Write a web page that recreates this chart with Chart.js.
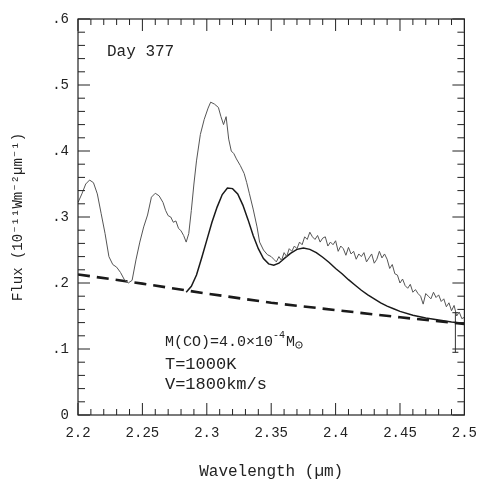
<!DOCTYPE html>
<html>
<head>
<meta charset="utf-8">
<script src="https://cdn.jsdelivr.net/npm/chart.js@4"></script>
<style>
  body { margin: 0; background: #fff; }
  canvas { display: block; }
</style>
</head>
<body>
<canvas id="fluxChart" width="487" height="484"></canvas>
<script>
// observed spectrum (day 377)
const obsWave = [2.200, 2.203, 2.206, 2.209, 2.212, 2.215, 2.218, 2.221, 2.224, 2.227, 2.230, 2.233, 2.236, 2.239, 2.242, 2.245, 2.248, 2.251, 2.254, 2.257, 2.260, 2.263, 2.266, 2.268, 2.270, 2.272, 2.274, 2.276, 2.278, 2.280, 2.282, 2.284, 2.286, 2.288, 2.290, 2.292, 2.295, 2.298, 2.301, 2.303, 2.306, 2.309, 2.311, 2.313, 2.315, 2.317, 2.319, 2.321, 2.323, 2.326, 2.329, 2.331, 2.333, 2.336, 2.339, 2.341, 2.344, 2.347, 2.350, 2.352, 2.354,
    2.356, 2.358, 2.360, 2.362, 2.364, 2.366, 2.368, 2.370, 2.372, 2.374, 2.376, 2.378, 2.380, 2.382, 2.384, 2.386, 2.388, 2.390, 2.392, 2.394, 2.396, 2.398, 2.400, 2.402, 2.404, 2.406, 2.408, 2.410, 2.412, 2.414, 2.416, 2.418, 2.420, 2.422, 2.424, 2.426, 2.428, 2.430, 2.432, 2.434, 2.436, 2.438, 2.440, 2.442, 2.444, 2.446, 2.448, 2.450, 2.452, 2.454, 2.456, 2.458, 2.460, 2.462, 2.464, 2.466, 2.468, 2.470, 2.472, 2.474, 2.476, 2.478, 2.480, 2.482, 2.484, 2.486, 2.488, 2.490, 2.492, 2.494, 2.496, 2.498, 2.500];
const obsFlux = [0.322, 0.335, 0.350, 0.356, 0.352, 0.335, 0.305, 0.275, 0.240, 0.228, 0.224, 0.216, 0.205, 0.200, 0.204, 0.235, 0.262, 0.285, 0.303, 0.330, 0.336, 0.332, 0.322, 0.310, 0.302, 0.300, 0.292, 0.294, 0.283, 0.279, 0.272, 0.262, 0.275, 0.310, 0.350, 0.385, 0.425, 0.448, 0.465, 0.474, 0.471, 0.466, 0.452, 0.440, 0.452, 0.418, 0.400, 0.396, 0.388, 0.378, 0.366, 0.352, 0.336, 0.312, 0.285, 0.262, 0.250, 0.243, 0.240, 0.236, 0.232,
    0.240, 0.234, 0.246, 0.240, 0.252, 0.248, 0.256, 0.252, 0.262, 0.258, 0.270, 0.266, 0.277, 0.270, 0.266, 0.272, 0.262, 0.268, 0.270, 0.256, 0.262, 0.258, 0.264, 0.248, 0.256, 0.252, 0.242, 0.254, 0.244, 0.248, 0.236, 0.244, 0.240, 0.246, 0.232, 0.238, 0.244, 0.230, 0.236, 0.248, 0.238, 0.244, 0.236, 0.222, 0.228, 0.214, 0.212, 0.200, 0.206, 0.196, 0.192, 0.198, 0.186, 0.190, 0.184, 0.180, 0.168, 0.184, 0.180, 0.176, 0.186, 0.178, 0.182, 0.172, 0.176, 0.164, 0.170, 0.158, 0.166, 0.150, 0.156, 0.146, 0.148];

// CO model (solid)
const modelWave = [2.284, 2.288, 2.292, 2.296, 2.300, 2.304, 2.308, 2.312, 2.316, 2.320, 2.324, 2.328, 2.332, 2.336, 2.340, 2.344, 2.348, 2.352, 2.356, 2.360, 2.365, 2.370, 2.375, 2.380, 2.385, 2.390, 2.395, 2.400, 2.405, 2.410, 2.415, 2.420, 2.425, 2.430, 2.435, 2.440, 2.445, 2.450, 2.460, 2.470, 2.480, 2.490, 2.500];
const modelFlux = [0.186, 0.195, 0.212, 0.238, 0.265, 0.292, 0.315, 0.334, 0.344, 0.343, 0.335, 0.318, 0.296, 0.272, 0.252, 0.237, 0.229, 0.227, 0.230, 0.237, 0.245, 0.251, 0.253, 0.251, 0.246, 0.239, 0.231, 0.222, 0.214, 0.205, 0.197, 0.189, 0.182, 0.176, 0.170, 0.165, 0.161, 0.157, 0.151, 0.147, 0.144, 0.141, 0.139];

// continuum (dashed)
const contWave = [2.20, 2.25, 2.30, 2.35, 2.40, 2.45, 2.50];
const contFlux = [0.213, 0.199, 0.184, 0.170, 0.159, 0.148, 0.138];

// error bar at the red end
const errWave = [2.493, 2.493];
const errFlux = [0.095, 0.155];

const xTicks = [2.2, 2.25, 2.3, 2.35, 2.4, 2.45, 2.5];
const yTicks = [0, 0.1, 0.2, 0.3, 0.4, 0.5, 0.6];

const FONT = '"Liberation Mono", "DejaVu Sans Mono", monospace';
const INK = '#222';

function toPoints(xs, ys) {
    return xs.map((x, i) => ({ x: x, y: ys[i] }));
}

// frame, inward tick marks and text labels
const framePlugin = {
    id: 'frame',
    afterDraw(chart) {
        const c = chart.ctx;
        const xs = chart.scales.x;
        const ys = chart.scales.y;
        const a = chart.chartArea;
        c.save();
        c.strokeStyle = INK;
        c.lineWidth = 1.2;
        c.strokeRect(a.left, a.top, a.right - a.left, a.bottom - a.top);

        c.lineWidth = 1;
        c.beginPath();
        // x: minor every 0.01, major every 0.05
        for (let i = 0; i <= 30; i++) {
            const px = xs.getPixelForValue(2.2 + i * 0.01);
            const len = i % 5 === 0 ? 12 : 6;
            c.moveTo(px, a.bottom); c.lineTo(px, a.bottom - len);
            c.moveTo(px, a.top); c.lineTo(px, a.top + len);
        }
        // y: minor every 0.02, major every 0.1
        for (let i = 0; i <= 30; i++) {
            const py = ys.getPixelForValue(i * 0.02);
            const len = i % 5 === 0 ? 12 : 7;
            c.moveTo(a.left, py); c.lineTo(a.left + len, py);
            c.moveTo(a.right, py); c.lineTo(a.right - len, py);
        }
        c.stroke();

        // error bar caps
        const ex = xs.getPixelForValue(errWave[0]);
        c.beginPath();
        errFlux.forEach(v => {
            const py = ys.getPixelForValue(v);
            c.moveTo(ex - 3, py); c.lineTo(ex + 3, py);
        });
        c.stroke();

        c.fillStyle = INK;
        c.textBaseline = 'middle';
        c.textAlign = 'left';
        c.font = '16px ' + FONT;
        c.fillText('Day 377', xs.getPixelForValue(2.2225), ys.getPixelForValue(0.55));

        // model parameters
        let tx = xs.getPixelForValue(2.2675);
        let ty = ys.getPixelForValue(0.1106);
        c.font = '15px ' + FONT;
        const s1 = 'M(CO)=4.0\u00d710';
        c.fillText(s1, tx, ty);
        tx += c.measureText(s1).width;
        c.font = '10px ' + FONT;
        c.fillText('-4', tx, ty - 7);
        tx += c.measureText('-4').width + 1;
        c.font = '15px ' + FONT;
        c.fillText('M', tx, ty);
        tx += c.measureText('M').width;
        c.beginPath();
        c.arc(tx + 4, ty + 3, 3.2, 0, Math.PI * 2);
        c.stroke();
        c.fillRect(tx + 3.5, ty + 2.5, 1.2, 1.2);

        c.font = '17px ' + FONT;
        c.fillText('T=1000K', xs.getPixelForValue(2.2675), ys.getPixelForValue(0.0758));
        c.fillText('V=1800km/s', xs.getPixelForValue(2.2675), ys.getPixelForValue(0.0455));
        c.restore();
    }
};

const ctx = document.getElementById('fluxChart').getContext('2d');
const chartInstance = new Chart(ctx, {
    type: 'scatter',
    data: {
        datasets: [
            {
                label: 'Observed',
                data: toPoints(obsWave, obsFlux),
                showLine: true,
                borderColor: '#555',
                borderWidth: 1,
                pointRadius: 0
            },
            {
                label: 'CO model',
                data: toPoints(modelWave, modelFlux),
                showLine: true,
                borderColor: '#1a1a1a',
                borderWidth: 1.5,
                pointRadius: 0
            },
            {
                label: 'Continuum',
                data: toPoints(contWave, contFlux),
                showLine: true,
                borderColor: '#1a1a1a',
                borderWidth: 2.6,
                borderDash: [12, 7],
                pointRadius: 0
            },
            {
                label: 'Error',
                data: toPoints(errWave, errFlux),
                showLine: true,
                borderColor: '#333',
                borderWidth: 1,
                pointRadius: 0
            }
        ]
    },
    options: {
        responsive: false,
        animation: false,
        layout: { padding: { top: 19, right: 16, left: 0, bottom: 0 } },
        plugins: {
            legend: { display: false },
            tooltip: { enabled: false }
        },
        scales: {
            x: {
                type: 'linear',
                min: 2.2,
                max: 2.5,
                afterFit: s => { s.height = 69; },
                afterBuildTicks: s => { s.ticks = xTicks.map(v => ({ value: v })); },
                grid: { display: false, drawTicks: false },
                border: { display: false },
                ticks: {
                    color: INK,
                    font: { family: FONT, size: 14 },
                    padding: 10,
                    maxRotation: 0,
                    autoSkip: false,
                    callback: v => String(Number(v.toFixed(2)))
                },
                title: {
                    display: true,
                    text: 'Wavelength (\u00b5m)',
                    color: INK,
                    font: { family: FONT, size: 16 },
                    padding: { top: 0, bottom: 3 }
                }
            },
            y: {
                type: 'linear',
                min: 0,
                max: 0.6,
                afterFit: s => { s.width = 78; },
                afterBuildTicks: s => { s.ticks = yTicks.map(v => ({ value: v })); },
                grid: { display: false, drawTicks: false },
                border: { display: false },
                ticks: {
                    color: INK,
                    font: { family: FONT, size: 14 },
                    padding: 9,
                    callback: v => (v === 0 ? '0' : v.toFixed(1).replace(/^0/, ''))
                },
                title: {
                    display: true,
                    text: 'Flux (10\u207b\u00b9\u00b9Wm\u207b\u00b2\u00b5m\u207b\u00b9)',
                    color: INK,
                    font: { family: FONT, size: 14 },
                    padding: { top: 10, bottom: 0 }
                }
            }
        }
    },
    plugins: [framePlugin]
});
</script>
</body>
</html>
